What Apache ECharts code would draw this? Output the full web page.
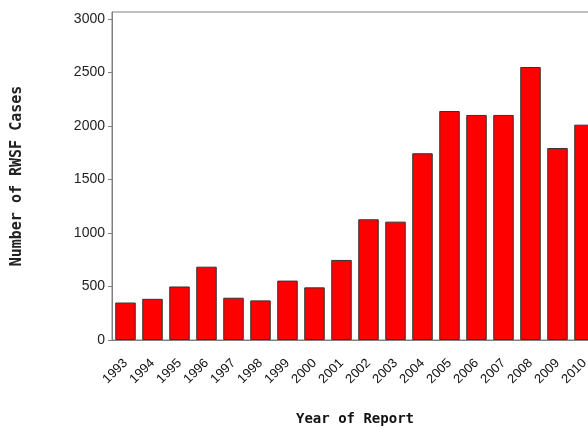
<!DOCTYPE html>
<html>
<head>
<meta charset="utf-8">
<script src="https://cdn.jsdelivr.net/npm/echarts@6/dist/echarts.min.js"></script>
<style>
  html, body { margin: 0; padding: 0; background: #fff; overflow: hidden; width: 588px; height: 428px; }
  #chart { width: 640px; height: 428px; }
</style>
</head>
<body>
<div id="chart"></div>
<script>
// years on the x axis (the plot runs past the right edge of the picture)
var years = ['1993', '1994', '1995', '1996', '1997', '1998', '1999', '2000', '2001',
  '2002', '2003', '2004', '2005', '2006', '2007', '2008', '2009', '2010']
// number of RWSF cases
var cases = [350, 385, 500, 685, 395, 370, 555, 492, 748,
  1128, 1106, 1745, 2140, 2103, 2103, 2551, 1794, 2012]
var yTicks = [0, 500, 1000, 1500, 2000, 2500, 3000]

var chart = echarts.init(document.getElementById('chart'))
chart.setOption({
  animation: false,
  grid: {
    left: 112,
    top: 12,
    width: 486,
    bottom: 88,
    show: true,
    borderColor: '#808080',
    borderWidth: 1,
    containLabel: false,
    outerBoundsMode: 'none'
  },
  xAxis: {
    type: 'category',
    data: years,
    name: 'Year of Report',
    nameLocation: 'middle',
    nameGap: 72,
    nameTextStyle: {
      fontFamily: 'DejaVu Sans Mono',
      fontWeight: 'bold',
      fontSize: 14,
      color: '#111'
    },
    axisLine: { lineStyle: { color: '#808080', width: 1 } },
    axisTick: { show: false },
    axisLabel: {
      rotate: 45,
      interval: 0,
      margin: 21,
      fontFamily: 'Liberation Sans',
      fontSize: 13,
      color: '#111'
    }
  },
  yAxis: {
    type: 'value',
    min: 0,
    max: 3065,
    interval: 500,
    name: 'Number of RWSF Cases',
    nameLocation: 'middle',
    nameRotate: 90,
    nameGap: 87,
    nameTextStyle: {
      fontFamily: 'DejaVu Sans Mono',
      fontWeight: 'bold',
      fontSize: 15,
      color: '#222'
    },
    splitLine: { show: false },
    axisLine: { show: true, lineStyle: { color: '#808080', width: 1 } },
    axisTick: { show: true, length: 4, lineStyle: { color: '#808080' } },
    axisLabel: {
      showMaxLabel: false,
      margin: 7,
      fontFamily: 'Liberation Sans',
      fontSize: 14,
      color: '#222',
      formatter: function (v) {
        return yTicks.indexOf(v) >= 0 ? String(v) : ''
      }
    }
  },
  series: [{
    type: 'bar',
    data: cases,
    barCategoryGap: '24%',
    itemStyle: {
      color: '#ff0000',
      borderColor: '#333',
      borderWidth: 1
    }
  }]
})
</script>
</body>
</html>
